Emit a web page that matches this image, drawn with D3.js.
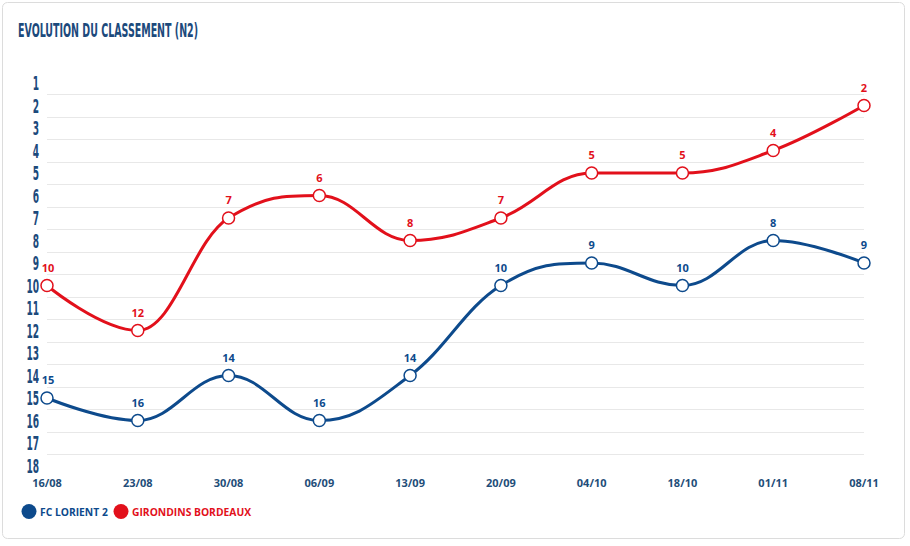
<!DOCTYPE html>
<html>
<head>
<meta charset="utf-8">
<script src="https://cdn.jsdelivr.net/npm/d3@7"></script>
<style>
  body { margin: 0; background: #fff; }
  svg { display: block; }
</style>
</head>
<body>
<div id="chart"></div>
<script>
const dates = ["16/08", "23/08", "30/08", "06/09", "13/09", "20/09", "04/10", "18/10", "01/11", "08/11"];
const lorient = [15, 16, 14, 16, 14, 10, 9, 10, 8, 9];
const bordeaux = [10, 12, 7, 6, 8, 7, 5, 5, 4, 2];
const ranks = d3.range(1, 19);
const seriesNames = ["FC LORIENT 2", "GIRONDINS BORDEAUX"];

const W = 910, H = 546;
const blue = "#0d4a8c", red = "#e2101b";

const svg = d3.select("#chart").append("svg")
  .attr("width", W)
  .attr("height", H);

// card
svg.append("rect")
  .attr("x", 2.5).attr("y", 2.5)
  .attr("width", 902).attr("height", 536)
  .attr("rx", 5)
  .attr("fill", "#fff")
  .attr("stroke", "#dcdcdc");

svg.append("text")
  .attr("x", 18).attr("y", 37)
  .attr("textLength", 180)
  .attr("lengthAdjust", "spacingAndGlyphs")
  .style("font-family", "'DejaVu Sans Condensed', 'DejaVu Sans'")
  .style("font-weight", "bold")
  .style("font-size", "20px")
  .attr("fill", "#1c4a7c")
  .text("EVOLUTION DU CLASSEMENT (N2)");

const x = d3.scalePoint().domain(dates).range([47, 864]);
const y = d3.scaleLinear().domain([1, 18]).range([83, 465.5]);

// grid lines between ranks
svg.append("g").selectAll("line")
  .data(d3.range(1.5, 18, 1))
  .join("line")
  .attr("x1", 47).attr("x2", 864)
  .attr("y1", d => Math.round(y(d)) + 0.5)
  .attr("y2", d => Math.round(y(d)) + 0.5)
  .attr("stroke", "#e8e8e8");

// y labels (condensed)
svg.append("g").selectAll("text")
  .data(ranks)
  .join("text")
  .attr("transform", d => `translate(39,${y(d) + 7}) scale(0.53,1)`)
  .attr("text-anchor", "end")
  .style("font-family", "'DejaVu Sans Condensed', 'DejaVu Sans'")
  .style("font-weight", "bold")
  .style("font-size", "19px")
  .attr("fill", "#1c4a7c")
  .text(d => d);

// x labels
svg.append("g").selectAll("text")
  .data(dates)
  .join("text")
  .attr("x", d => x(d))
  .attr("y", 487)
  .attr("text-anchor", "middle")
  .style("font-family", "'Open Sans', sans-serif")
  .style("font-weight", "bold")
  .style("font-size", "11px")
  .attr("fill", "#1f4e79")
  .text(d => d);

// spline with Highcharts-like control points
function spline(pts) {
  const s = 1.5, den = s + 1;
  const cont = pts.map((p, i) => {
    if (i === 0 || i === pts.length - 1) return { lx: p[0], ly: p[1], rx: p[0], ry: p[1] };
    const [px, py] = p, [ax, ay] = pts[i - 1], [bx, by] = pts[i + 1];
    let lx = (s * px + ax) / den, ly = (s * py + ay) / den;
    let rx = (s * px + bx) / den, ry = (s * py + by) / den;
    const corr = ((ry - ly) * (rx - px)) / (rx - lx) + py - ry;
    ly += corr; ry += corr;
    if (ly > ay && ly > py) { ly = Math.max(ay, py); ry = 2 * py - ly; }
    else if (ly < ay && ly < py) { ly = Math.min(ay, py); ry = 2 * py - ly; }
    if (ry > by && ry > py) { ry = Math.max(by, py); ly = 2 * py - ry; }
    else if (ry < by && ry < py) { ry = Math.min(by, py); ly = 2 * py - ry; }
    return { lx, ly, rx, ry };
  });
  const path = d3.path();
  path.moveTo(pts[0][0], pts[0][1]);
  for (let i = 1; i < pts.length; i++) {
    path.bezierCurveTo(cont[i - 1].rx, cont[i - 1].ry, cont[i].lx, cont[i].ly, pts[i][0], pts[i][1]);
  }
  return path.toString();
}

function drawSeries(values, color) {
  const g = svg.append("g");
  const pts = values.map((d, i) => [x(dates[i]), y(d)]);
  g.append("path")
    .attr("d", spline(pts))
    .attr("fill", "none")
    .attr("stroke", color)
    .attr("stroke-width", 3);
  g.selectAll("circle")
    .data(values)
    .join("circle")
    .attr("cx", (d, i) => x(dates[i]))
    .attr("cy", d => y(d))
    .attr("r", 6)
    .attr("fill", "#fff")
    .attr("stroke", color)
    .attr("stroke-width", 1.5);
  g.selectAll("text")
    .data(values)
    .join("text")
    .attr("x", (d, i) => x(dates[i]) + (i === 0 ? 1 : 0))
    .attr("y", d => y(d) - 14)
    .attr("text-anchor", "middle")
    .style("font-family", "'Open Sans', sans-serif")
    .style("font-weight", "bold")
    .style("font-size", "11px")
    .attr("fill", color)
    .text(d => d);
}

drawSeries(lorient, blue);
drawSeries(bordeaux, red);

// legend
const legend = svg.append("g");
const legendItems = [
  { name: seriesNames[0], color: blue, x: 29 },
  { name: seriesNames[1], color: red, x: 121 }
];
legendItems.forEach(it => {
  legend.append("circle")
    .attr("cx", it.x).attr("cy", 511.5)
    .attr("r", 7.5)
    .attr("fill", it.color);
  legend.append("text")
    .attr("x", it.x + 11).attr("y", 515.5)
    .style("font-family", "'Open Sans', sans-serif")
    .style("font-weight", "bold")
    .style("font-size", "10.3px")
    .attr("fill", it.color)
    .text(it.name);
});
</script>
</body>
</html>
